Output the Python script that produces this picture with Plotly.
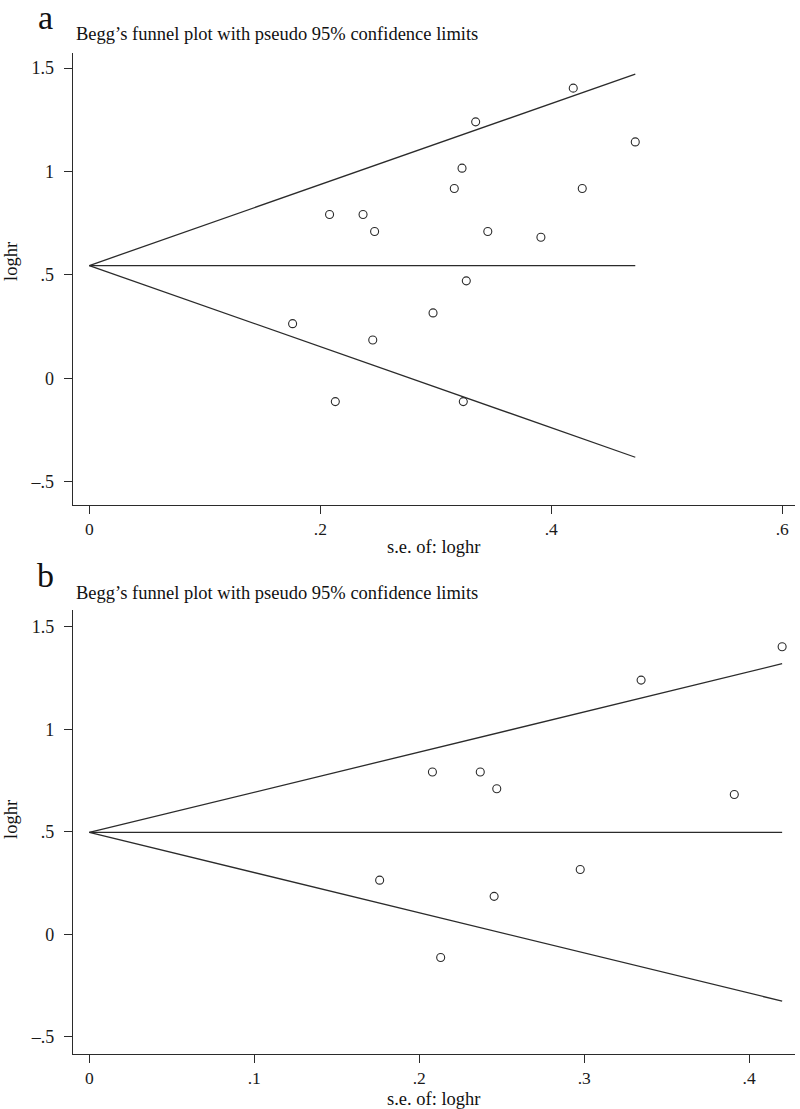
import plotly.graph_objects as go

# ---------------- data ----------------
# Panel a
se_a = [0.176, 0.208, 0.213, 0.237, 0.2454, 0.247, 0.2976, 0.316, 0.3227,
        0.3238, 0.3264, 0.3345, 0.345, 0.391, 0.419, 0.4268, 0.4727]
loghr_a = [0.264, 0.792, -0.113, 0.792, 0.185, 0.710, 0.316, 0.918, 1.016,
           -0.113, 0.471, 1.240, 0.710, 0.682, 1.403, 0.918, 1.143]
funnel_se_a = [0.0, 0.4727]
funnel_upper_a = [0.545, 1.471]
funnel_lower_a = [0.545, -0.382]
funnel_center_a = [0.545, 0.545]

# Panel b
se_b = [0.176, 0.208, 0.213, 0.237, 0.2454, 0.247, 0.2976, 0.3345, 0.391, 0.42]
loghr_b = [0.264, 0.792, -0.113, 0.792, 0.185, 0.710, 0.316, 1.240, 0.682, 1.403]
funnel_se_b = [0.0, 0.42]
funnel_upper_b = [0.497, 1.320]
funnel_lower_b = [0.497, -0.326]
funnel_center_b = [0.497, 0.497]

y_tickvals = [-0.5, 0, 0.5, 1, 1.5]
y_ticktext = ["\u2013.5", "0", ".5", "1", "1.5"]
x_tickvals_a = [0, 0.2, 0.4, 0.6]
x_ticktext_a = ["0", ".2", ".4", ".6"]
x_tickvals_b = [0, 0.1, 0.2, 0.3, 0.4]
x_ticktext_b = ["0", ".1", ".2", ".3", ".4"]

title_text = "Begg\u2019s funnel plot with pseudo 95% confidence limits"
x_title = "s.e. of: loghr"
y_title = "loghr"

# ---------------- figure ----------------
W, H = 800, 1109
FONT = "Liberation Serif, Times New Roman, serif"
INK = "#2b2b2b"


def px(x):
    return x / W


def py(y):
    return 1 - y / H


fig = go.Figure()

line_style = dict(color=INK, width=1.3)
marker_style = dict(symbol="circle-open", size=8, color=INK, line=dict(width=1.1, color=INK))

for xa, ya, fse, up, lo, ce, se, lh in [
    ("x", "y", funnel_se_a, funnel_upper_a, funnel_lower_a, funnel_center_a, se_a, loghr_a),
    ("x2", "y2", funnel_se_b, funnel_upper_b, funnel_lower_b, funnel_center_b, se_b, loghr_b),
]:
    for yy in (up, lo, ce):
        fig.add_trace(go.Scatter(x=fse, y=yy, mode="lines", line=line_style,
                                 xaxis=xa, yaxis=ya, showlegend=False, hoverinfo="skip"))
    fig.add_trace(go.Scatter(x=se, y=lh, mode="markers", marker=marker_style,
                             xaxis=xa, yaxis=ya, showlegend=False))

axis_common = dict(
    showgrid=False, zeroline=False, showline=True, linecolor=INK, linewidth=1.3,
    ticks="outside", ticklen=8, tickwidth=1.2, tickcolor=INK,
    tickfont=dict(family=FONT, size=18, color="#1a1a1a"),
    mirror=False, fixedrange=True,
)
xtickfont = dict(family=FONT, size=17.5, color="#1a1a1a")

# panel geometry (page pixels)
a_left, a_right, a_top, a_bottom = 72.7, 795, 53, 505
b_left, b_right, b_top, b_bottom = 73, 795, 610, 1054

fig.update_layout(
    width=W, height=H,
    margin=dict(l=0, r=0, t=0, b=0),
    paper_bgcolor="white", plot_bgcolor="white",
    xaxis=dict(axis_common, domain=[px(a_left), px(a_right)], range=[-0.0144, 0.611],
               tickvals=x_tickvals_a, ticktext=x_ticktext_a, anchor="y", tickfont=xtickfont),
    yaxis=dict(axis_common, domain=[py(a_bottom), py(a_top)], range=[-0.613, 1.573],
               tickvals=y_tickvals, ticktext=y_ticktext, anchor="x", ticklabelstandoff=6),
    xaxis2=dict(axis_common, domain=[px(b_left), px(b_right)], range=[-0.0099, 0.4278],
                tickvals=x_tickvals_b, ticktext=x_ticktext_b, anchor="y2", tickfont=xtickfont),
    yaxis2=dict(axis_common, domain=[py(b_bottom), py(b_top)], range=[-0.584, 1.582],
                tickvals=y_tickvals, ticktext=y_ticktext, anchor="x2", ticklabelstandoff=6),
)

annotations = []
for label, lab_y, tit_y, xt_y, yt_y, cx in [
    ("a", 18, 34, 547, 262, (a_left + a_right) / 2),
    ("b", 575, 593, 1099, 820, (b_left + b_right) / 2),
]:
    annotations.append(dict(text=label, x=px(45), y=py(lab_y), xref="paper", yref="paper",
                            showarrow=False, xanchor="center", yanchor="middle",
                            font=dict(family=FONT, size=34, color="#111")))
    annotations.append(dict(text=title_text, x=px(74), y=py(tit_y), xref="paper", yref="paper",
                            showarrow=False, xanchor="left", yanchor="middle",
                            font=dict(family=FONT, size=18.5, color="#111")))
    annotations.append(dict(text=x_title, x=px(cx), y=py(xt_y), xref="paper", yref="paper",
                            showarrow=False, xanchor="center", yanchor="middle",
                            font=dict(family=FONT, size=18.5, color="#111")))
    annotations.append(dict(text=y_title, x=px(11), y=py(yt_y), xref="paper", yref="paper",
                            showarrow=False, xanchor="center", yanchor="middle", textangle=-90,
                            font=dict(family=FONT, size=18.5, color="#111")))

fig.update_layout(annotations=annotations)

# remove the default 8px page margin so the figure fills the window exactly
fig.write_html("out.html", config={"displayModeBar": False},
               post_script="document.body.style.margin='0px';")
